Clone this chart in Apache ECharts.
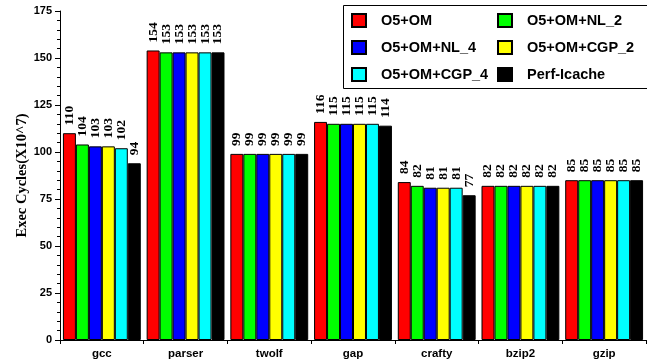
<!DOCTYPE html>
<html>
<head>
<meta charset="utf-8">
<script src="https://cdn.jsdelivr.net/npm/echarts@6/dist/echarts.min.js"></script>
<style>
  html, body { margin: 0; padding: 0; background: #fff; }
  #chart { width: 647px; height: 362px; }
</style>
</head>
<body>
<div id="chart"></div>
<script>
// Benchmarks on the x axis
const benchmarks = ['gcc', 'parser', 'twolf', 'gap', 'crafty', 'bzip2', 'gzip'];

// Execution cycles (x10^7) per configuration
const o5om      = [110, 154, 99, 116, 84, 82, 85];
const o5omNl2   = [104, 153, 99, 115, 82, 82, 85];
const o5omNl4   = [103, 153, 99, 115, 81, 82, 85];
const o5omCgp2  = [103, 153, 99, 115, 81, 82, 85];
const o5omCgp4  = [102, 153, 99, 115, 81, 82, 85];
const perfIcache = [94, 153, 99, 114, 77, 82, 85];

const seriesNames = ['O5+OM', 'O5+OM+NL_2', 'O5+OM+NL_4', 'O5+OM+CGP_2', 'O5+OM+CGP_4', 'Perf-Icache'];
const seriesData = [o5om, o5omNl2, o5omNl4, o5omCgp2, o5omCgp4, perfIcache];
const seriesColors = ['#ff0000', '#00ff00', '#0000ff', '#ffff00', '#00ffff', '#000000'];

// Y axis range
const yMin = 0, yMax = 175, yStep = 25;

const chart = echarts.init(document.getElementById('chart'), null, { renderer: 'canvas' });

const sansBold = { fontFamily: 'Liberation Sans, Arial, sans-serif', fontWeight: 'bold', color: '#000' };
const serifBold = { fontFamily: 'Liberation Serif, Times New Roman, serif', fontWeight: 'bold', color: '#000' };

const legendCommon = {
  orient: 'vertical',
  top: 13,
  padding: 0,
  itemWidth: 14,
  itemHeight: 13,
  itemGap: 12,
  icon: 'rect',
  textStyle: Object.assign({ fontSize: 14.5, lineHeight: 13, padding: [0, 0, 0, 10] }, sansBold)
};

const option = {
  animation: false,
  backgroundColor: '#fff',
  grid: { left: 60, right: 1, top: 11, bottom: 22, containLabel: false },
  legend: [
    Object.assign({ left: 351, data: [seriesNames[0], seriesNames[2], seriesNames[4]] }, legendCommon),
    Object.assign({ left: 497, data: [seriesNames[1], seriesNames[3], seriesNames[5]] }, legendCommon)
  ],
  graphic: [{
    type: 'rect',
    left: 341, top: 3,
    shape: { width: 304, height: 83 },
    style: { fill: 'none', stroke: '#000', lineWidth: 1 },
    z: 100
  }],
  xAxis: {
    type: 'category',
    data: benchmarks,
    axisLine: { lineStyle: { color: '#000', width: 1 } },
    axisTick: { show: true, length: 4, lineStyle: { color: '#000' } },
    axisLabel: Object.assign({ fontSize: 11.5, margin: 8 }, sansBold)
  },
  yAxis: {
    type: 'value',
    min: yMin, max: yMax, interval: yStep,
    name: 'Exec Cycles(X10^7)',
    nameLocation: 'middle',
    nameGap: 30,
    nameMoveOverlap: false,
    nameTextStyle: Object.assign({ fontSize: 14.5 }, serifBold),
    axisLine: { show: true, lineStyle: { color: '#000', width: 1 } },
    axisTick: { show: true, length: 5, lineStyle: { color: '#000' } },
    minorTick: { show: true, splitNumber: 5, length: 3, lineStyle: { color: '#000' } },
    splitLine: { show: false },
    axisLabel: Object.assign({ fontSize: 11, margin: 8 }, sansBold)
  },
  series: seriesNames.map((name, i) => ({
    name: name,
    type: 'bar',
    data: seriesData[i],
    barGap: '0%',
    barCategoryGap: '7%',
    itemStyle: { color: seriesColors[i], borderColor: '#000', borderWidth: 1 },
    label: Object.assign({
      show: true,
      position: 'top',
      rotate: 90,
      align: 'left',
      verticalAlign: 'middle',
      distance: 8,
      fontSize: 13.5
    }, serifBold)
  }))
};

chart.setOption(option);
</script>
</body>
</html>
